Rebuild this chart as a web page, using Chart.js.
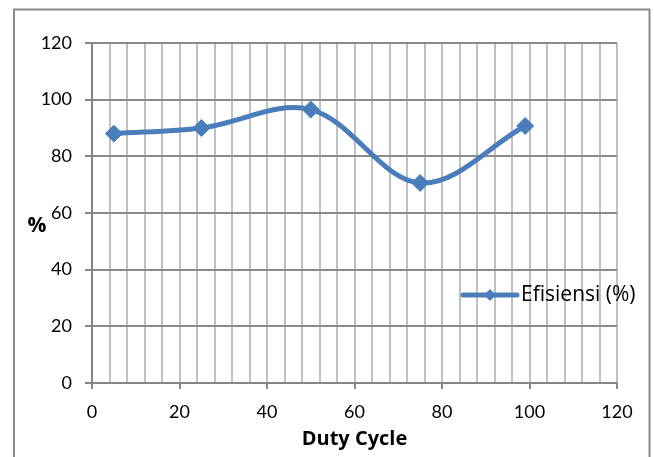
<!DOCTYPE html>
<html>
<head>
<meta charset="utf-8">
<script src="https://cdn.jsdelivr.net/npm/chart.js@4/dist/chart.umd.min.js"></script>
<style>
  html, body { margin: 0; padding: 0; background: #fff; overflow: hidden; }
  #wrap { position: relative; width: 654px; height: 457px; }
</style>
</head>
<body>
<div id="wrap"><canvas id="c" width="654" height="457"></canvas></div>
<script>
// Efficiency measured at each duty cycle setting
const dutyCycle = [5, 25, 50, 75, 99];
const efisiensi = [88.0, 90.0, 96.5, 70.6, 90.7];
const xTickLabels = [0, 20, 40, 60, 80, 100, 120];
const yTickLabels = [0, 20, 40, 60, 80, 100, 120];
const seriesName = 'Efisiensi (%)';
const xTitle = 'Duty Cycle';
const yTitle = '%';

const FONT = 'Lato, "Open Sans", sans-serif';
const TEXT_FONT = '"Open Sans", Lato, sans-serif';
const BLUE = '#4a7ebb';
const AXIS = '#868686';

// Outer chart frame (bottom edge runs past the canvas)
const framePlugin = {
  id: 'frame',
  beforeDraw(chart) {
    const ctx = chart.ctx;
    ctx.save();
    ctx.fillStyle = '#fff';
    ctx.fillRect(0, 0, chart.width, chart.height);
    ctx.strokeStyle = '#8a8a8a';
    ctx.lineWidth = 2;
    ctx.strokeRect(14, 9.5, 635.5, chart.height + 20);
    ctx.restore();
  }
};

// Horizontal "%" axis title and the line+marker legend entry
const extrasPlugin = {
  id: 'extras',
  afterDraw(chart) {
    const ctx = chart.ctx;
    ctx.save();
    ctx.fillStyle = '#000';
    ctx.font = 'bold 21px ' + TEXT_FONT;
    ctx.textAlign = 'center';
    ctx.textBaseline = 'middle';
    ctx.fillText(yTitle, 37, 226);

    // legend sample
    const ly = 295;
    ctx.strokeStyle = BLUE;
    ctx.lineWidth = 5;
    ctx.lineCap = 'round';
    ctx.beginPath();
    ctx.moveTo(463, ly);
    ctx.lineTo(517, ly);
    ctx.stroke();
    ctx.fillStyle = BLUE;
    ctx.beginPath();
    ctx.moveTo(490 - 6, ly);
    ctx.lineTo(490, ly - 6);
    ctx.lineTo(490 + 6, ly);
    ctx.lineTo(490, ly + 6);
    ctx.closePath();
    ctx.fill();

    ctx.fillStyle = '#000';
    ctx.font = '21px ' + TEXT_FONT;
    ctx.textAlign = 'left';
    ctx.fillText(seriesName, 521, ly);
    ctx.restore();
  }
};

const points = dutyCycle.map((x, i) => ({ x: x, y: efisiensi[i] }));

new Chart(document.getElementById('c'), {
  type: 'scatter',
  data: {
    datasets: [{
      label: seriesName,
      data: points,
      showLine: true,
      borderColor: BLUE,
      backgroundColor: BLUE,
      borderWidth: 5,
      borderCapStyle: 'round',
      borderJoinStyle: 'round',
      tension: 0.35,
      pointStyle: 'rectRot',
      pointRadius: 8.5,
      pointBorderWidth: 1,
      pointBackgroundColor: BLUE,
      pointBorderColor: BLUE,
      clip: false
    }]
  },
  options: {
    responsive: false,
    animation: false,
    devicePixelRatio: 1,
    layout: { padding: { top: 43, right: 37, left: 0, bottom: 0 } },
    plugins: {
      legend: { display: false },
      tooltip: { enabled: false }
    },
    scales: {
      x: {
        type: 'linear',
        position: 'bottom',
        min: 0,
        max: 120,
        afterFit(s) { s.height = 74; },
        ticks: {
          stepSize: 4,
          maxTicksLimit: 31,
          autoSkip: false,
          maxRotation: 0,
          padding: 12,
          color: '#000',
          font: { family: FONT, size: 18 },
          callback: v => xTickLabels.includes(v) ? String(v) : ''
        },
        grid: {
          z: -2,
          color: '#c0c0c0',
          lineWidth: 2,
          tickLength: 6,
          tickColor: c => (c.tick && xTickLabels.includes(c.tick.value)) ? AXIS : 'rgba(0,0,0,0)'
        },
        border: { color: AXIS, width: 2 },
        title: {
          display: true,
          text: xTitle,
          color: '#000',
          font: { family: TEXT_FONT, size: 20, weight: 'bold' },
          padding: { top: 4, bottom: 6 }
        }
      },
      y: {
        min: 0,
        max: 120,
        afterFit(s) { s.width = 92; },
        ticks: {
          stepSize: 20,
          padding: 13,
          color: '#000',
          font: { family: FONT, size: 18 },
          callback: v => yTickLabels.includes(v) ? String(v) : ''
        },
        grid: {
          z: -1,
          color: '#8c8c8c',
          lineWidth: 2,
          tickLength: 7,
          tickColor: AXIS
        },
        border: { color: AXIS, width: 2 }
      }
    }
  },
  plugins: [framePlugin, extrasPlugin]
});
</script>
</body>
</html>
